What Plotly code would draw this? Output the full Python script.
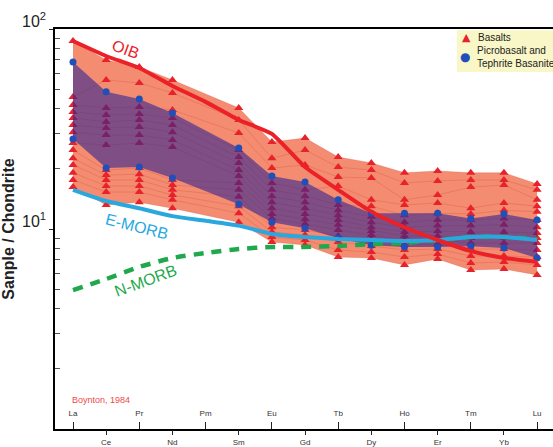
import plotly.graph_objects as go

# ---------------- data ----------------
elements = ["La", "Ce", "Pr", "Nd", "Pm", "Sm", "Eu", "Gd", "Tb", "Dy", "Ho", "Er", "Tm", "Yb", "Lu"]

# Basalt samples (chondrite-normalised), one list per element, samples in the same order
ba_La = [87.1, 45.7, 41.7, 38.5, 35.9, 33.1, 30.5, 26.9, 24.8, 22.6, 20.9, 19.1, 17.6, 16.2]
ba_Ce = [70.0, 55.6, 40.3, 37.2, 34.3, 32.0, 29.5, 26.3, 19.7, 18.6, 17.6, 16.4, 15.3, 13.2]
ba_Pr = [64.6, 53.7, 40.7, 37.6, 35.1, 32.4, 29.5, 26.9, 20.2, 18.8, 17.6, 16.4, 15.3, 13.6]
ba_Nd = [55.6, 47.9, 39.4, 35.9, 33.1, 30.5, 27.9, 25.7, 17.6, 16.6, 15.7, 14.8, 14.0, 12.7]
ba_Sm = [40.3, 35.1, 30.2, 24.8, 22.9, 21.4, 19.7, 18.4, 17.0, 15.7, 14.5, 13.0, 12.0, 10.8]
ba_Eu = [27.2, 22.6, 20.2, 17.0, 15.7, 14.6, 13.6, 12.7, 11.9, 11.3, 10.2, 9.66, 9.12, 8.61]
ba_Gd = [28.5, 24.8, 20.9, 15.7, 14.6, 13.6, 12.7, 11.9, 11.2, 10.6, 9.89, 9.33, 8.81, 8.32]
ba_Tb = [22.9, 20.4, 18.2, 16.4, 13.2, 12.4, 11.7, 11.1, 10.5, 9.89, 9.23, 8.61, 7.85, 7.24]
ba_Dy = [21.4, 19.7, 18.0, 14.0, 13.0, 11.5, 10.8, 10.2, 9.77, 9.33, 8.81, 8.22, 7.67, 7.16]
ba_Ho = [19.1, 17.0, 14.0, 13.2, 11.7, 10.8, 10.2, 9.66, 9.23, 8.81, 8.32, 7.85, 7.24, 6.61]
ba_Er = [19.5, 17.4, 14.8, 13.5, 12.0, 11.1, 10.4, 9.77, 9.23, 8.81, 8.41, 7.94, 7.50, 7.08]
ba_Tm = [19.1, 17.6, 16.2, 12.7, 11.9, 11.1, 10.4, 9.66, 9.02, 8.51, 7.94, 7.33, 6.76, 6.24]
ba_Yb = [19.1, 17.6, 16.6, 13.5, 12.4, 11.3, 10.5, 9.66, 9.02, 8.51, 7.94, 7.33, 6.84, 6.31]
ba_Lu = [16.8, 15.7, 14.0, 13.0, 12.2, 11.1, 10.2, 9.55, 9.02, 8.51, 7.85, 7.24, 6.61, 5.89]

# Picrobasalt and Tephrite Basanite samples (Pm not measured)
picro_high = [68.4, 48.5, 44.7, 38.0, None, 25.4, 18.4, 17.2, 14.0, 12.0, 12.0, 12.0, 11.3, 11.9, 11.1]
picro_low = [28.2, 20.2, 20.4, 18.0, None, 13.3, 10.8, 10.1, 9.0, 8.3, 8.13, 8.13, 8.2, 8.04, 7.16]

# Reference patterns
oib = [87.1, 73.3, 63.8, 51.9, 43.2, 35.1, 29.9, 20.4, 15.7, 12.2, 10.2, 8.81, 7.76, 7.16, 6.84]
e_morb = [15.7, 13.8, 12.7, 11.6, 11.0, 10.4, 9.44, 9.12, 8.91, 8.81, 8.71, 8.81, 9.12, 9.12, 8.81]
n_morb = [4.95, 5.62, 6.46, 7.16, 7.59, 7.94, 8.13, 8.13, 8.22, 8.41, 8.51, 8.81, 9.12, 9.12, 8.91]

y_tick_vals = [1, 10, 100]
y_tick_text = ["10<sup>0</sup>", "10<sup>1</sup>", "10<sup>2</sup>"]
legend_labels = ["Basalts", "Picrobasalt and<br>Tephrite Basanite"]

# ---------------- build ----------------
basalt_cols = {"La": ba_La, "Ce": ba_Ce, "Pr": ba_Pr, "Nd": ba_Nd, "Sm": ba_Sm, "Eu": ba_Eu,
               "Gd": ba_Gd, "Tb": ba_Tb, "Dy": ba_Dy, "Ho": ba_Ho, "Er": ba_Er, "Tm": ba_Tm,
               "Yb": ba_Yb, "Lu": ba_Lu}
measured = [e for e in elements if e in basalt_cols]
x_meas = [elements.index(e) for e in measured]
xi = list(range(len(elements)))
n_samples = len(ba_La)

FONT = "Liberation Sans, Arial, sans-serif"
RED = "#e8222b"
BLUE = "#1f4fb8"
fig = go.Figure()

# basalt envelope
top = [max(basalt_cols[e]) for e in measured]
bot = [min(basalt_cols[e]) for e in measured]
fig.add_trace(go.Scatter(x=x_meas, y=top, mode="lines", line=dict(width=0, color="rgba(0,0,0,0)"),
                         showlegend=False, hoverinfo="skip"))
fig.add_trace(go.Scatter(x=x_meas, y=bot, mode="lines", line=dict(width=0, color="rgba(0,0,0,0)"),
                         fill="tonexty", fillcolor="rgb(243,140,112)", showlegend=False, hoverinfo="skip"))

# individual basalt patterns
for i in range(n_samples):
    ys = [basalt_cols[e][i] for e in measured]
    fig.add_trace(go.Scatter(x=x_meas, y=ys, mode="lines",
                             line=dict(color="rgba(214,70,55,0.35)", width=0.8),
                             showlegend=False, hoverinfo="skip"))

bx, by = [], []
for e in measured:
    for v in basalt_cols[e]:
        bx.append(elements.index(e))
        by.append(v)
fig.add_trace(go.Scatter(x=bx, y=by, mode="markers", name=legend_labels[0], showlegend=False,
                         marker=dict(symbol="triangle-up", size=8, color=RED, line=dict(width=0))))

# picrobasalt band
px_hi = [i for i, v in zip(xi, picro_high) if v is not None]
py_hi = [v for v in picro_high if v is not None]
px_lo = [i for i, v in zip(xi, picro_low) if v is not None]
py_lo = [v for v in picro_low if v is not None]
fig.add_trace(go.Scatter(x=px_hi, y=py_hi, mode="lines", line=dict(width=0, color="rgba(0,0,0,0)"),
                         showlegend=False, hoverinfo="skip"))
fig.add_trace(go.Scatter(x=px_lo, y=py_lo, mode="lines", line=dict(width=0, color="rgba(0,0,0,0)"),
                         fill="tonexty", fillcolor="rgba(35,30,150,0.56)", showlegend=False, hoverinfo="skip"))
fig.add_trace(go.Scatter(x=px_hi + px_lo, y=py_hi + py_lo, mode="markers", name=legend_labels[1],
                         showlegend=False,
                         marker=dict(symbol="circle", size=7, color=BLUE, line=dict(width=0))))

# reference lines
fig.add_trace(go.Scatter(x=xi, y=n_morb, mode="lines", line=dict(color="#1fa84c", width=4.5, dash="10px,8px",
                         shape="spline", smoothing=0.6), showlegend=False))
fig.add_trace(go.Scatter(x=xi, y=e_morb, mode="lines", line=dict(color="#29a8e0", width=4,
                         shape="spline", smoothing=0.6), showlegend=False))
fig.add_trace(go.Scatter(x=xi, y=oib, mode="lines", line=dict(color="#ec2027", width=4,
                         shape="spline", smoothing=0.5), showlegend=False))

# dummy trace for second x axis (even-numbered elements below the axis)
fig.add_trace(go.Scatter(x=[None], y=[None], xaxis="x2", yaxis="y", showlegend=False, hoverinfo="skip"))

xrange = [-0.543, 14.48]
odd_idx = xi[0::2]
even_idx = xi[1::2]

fig.update_layout(
    width=553, height=447,
    margin=dict(l=55, r=0, t=29, b=18, autoexpand=False),
    paper_bgcolor="white", plot_bgcolor="white",
    font=dict(family=FONT, color="#222"),
    showlegend=False,
    xaxis=dict(range=xrange, tickmode="array", tickvals=odd_idx, ticktext=[elements[i] for i in odd_idx],
               ticks="inside", ticklen=7, tickwidth=1, tickcolor="#222", ticklabelposition="inside",
               ticklabelstandoff=3, automargin=False,
               tickfont=dict(size=8, color="#333"), showline=True, linecolor="black", linewidth=1.5,
               mirror=True, showgrid=False, zeroline=False),
    xaxis2=dict(range=xrange, overlaying="x", anchor="y", side="bottom", tickmode="array",
                tickvals=even_idx, ticktext=[elements[i] for i in even_idx], automargin=False,
                ticks="outside", ticklen=5, tickwidth=1, tickcolor="#222",
                tickfont=dict(size=8, color="#333"), showline=False, showgrid=False, zeroline=False),
    yaxis=dict(type="log", range=[0, 2], tickmode="array", tickvals=y_tick_vals, ticktext=y_tick_text,
               ticks="outside", ticklen=4, tickcolor="#222", tickfont=dict(size=16, color="#222"),
               ticklabelshift=-8, automargin=False,
               showline=True, linecolor="black", linewidth=1.5, showgrid=False, zeroline=False,
               minor=dict(ticks="inside", ticklen=5, tickcolor="#555", tickmode="array",
                          tickvals=[2, 3, 4, 5, 6, 7, 8, 9, 20, 30, 40, 50, 60, 70, 80, 90]),
               title=dict(text="<b>Sanple / Chondrite</b>", font=dict(size=16, color="#222"), standoff=4)),
    shapes=[
        dict(type="rect", xref="paper", yref="paper", x0=0.807, x1=1.0, y0=0.8925, y1=0.997,
             fillcolor="#f9f6c8", line=dict(width=0), layer="above"),
    ],
    annotations=[
        dict(x=1.6, y=1.9, xref="x", yref="y", text="OIB", textangle=20, showarrow=False,
             font=dict(size=16, color="#ec2027")),
        dict(x=1.93, y=1.015, xref="x", yref="y", text="E-MORB", textangle=14, showarrow=False,
             font=dict(size=16, color="#29a8e0")),
        dict(x=2.2, y=0.745, xref="x", yref="y", text="N-MORB", textangle=-20, showarrow=False,
             font=dict(size=16, color="#1fa84c")),
        dict(x=-0.1, y=0.145, xref="x", yref="y", xanchor="left", text="Boynton, 1984", showarrow=False,
             font=dict(size=9, color="#f04a4a")),
        # legend
        dict(x=0.826, y=0.98, xref="paper", yref="paper", xanchor="center", yanchor="middle", text="▲",
             showarrow=False, font=dict(size=11, color=RED, family="DejaVu Sans")),
        dict(x=0.845, y=0.98, xref="paper", yref="paper", xanchor="left", yanchor="middle",
             text=legend_labels[0], showarrow=False, font=dict(size=10, color="#222")),
        dict(x=0.823, y=0.93, xref="paper", yref="paper", xanchor="center", yanchor="middle", text="●",
             showarrow=False, font=dict(size=12, color=BLUE, family="DejaVu Sans")),
        dict(x=0.843, y=0.93, xref="paper", yref="paper", xanchor="left", yanchor="middle", align="left",
             text=legend_labels[1], showarrow=False, font=dict(size=10, color="#222")),
    ],
)

fig.write_html("out.html", config={"displayModeBar": False},
               post_script="document.body.style.margin='0';document.body.style.overflow='hidden';")
